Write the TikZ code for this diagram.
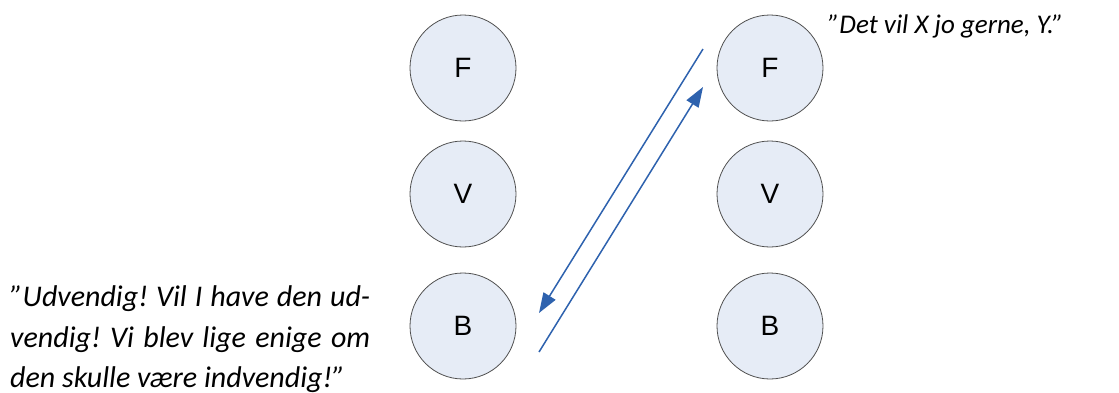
\documentclass[tikz,border=0pt]{standalone}
\usepackage{fontspec}
\setmainfont{Carlito}
\newfontfamily\arialf{Liberation Sans}
\usetikzlibrary{arrows.meta}
\definecolor{circfill}{HTML}{E6ECF6}
\definecolor{circline}{HTML}{505050}
\definecolor{arrblue}{HTML}{2E62AE}
\frenchspacing
\begin{document}
\begin{tikzpicture}[x=1pt,y=-1pt,
  circ/.style={circle,draw=circline,fill=circfill,line width=0.8pt,minimum size=106pt,inner sep=0pt,font=\arialf\fontsize{28}{32}\selectfont},
  conn/.style={draw=arrblue,line width=1.5pt,-{Triangle[length=20pt,width=14pt]}},
  quoter/.style={font=\itshape\fontsize{27}{31}\selectfont,inner sep=0pt},
  quotel/.style={font=\itshape\fontsize{30}{34}\selectfont,inner sep=0pt,anchor=base west}]
\useasboundingbox (0,0) rectangle (1119,392);
\node[circ] (F1) at (463,68) {F};
\node[circ] (V1) at (463,194) {V};
\node[circ] (B1) at (463,326) {B};
\node[circ] (F2) at (770,68) {F};
\node[circ] (V2) at (770,194) {V};
\node[circ] (B2) at (770,326) {B};
\coordinate (a1) at (703,49);
\coordinate (a2) at (539,313);
\coordinate (b1) at (539,352);
\coordinate (b2) at (703,87);
\draw[conn] (a1) -- (a2);
\draw[conn] (b1) -- (b2);
\node[quoter,anchor=base west] (qr) at (828,33) {”Det vil X jo gerne, Y.”};
\node[quotel] (ql1) at (10,306) {\makebox[360pt][s]{”Udvendig! Vil I have den ud-}};
\node[quotel] (ql2) at (10,347) {\makebox[360pt][s]{vendig! Vi blev lige enige om}};
\node[quotel] (ql3) at (10,387) {den skulle være indvendig!”};
\end{tikzpicture}
\end{document}
